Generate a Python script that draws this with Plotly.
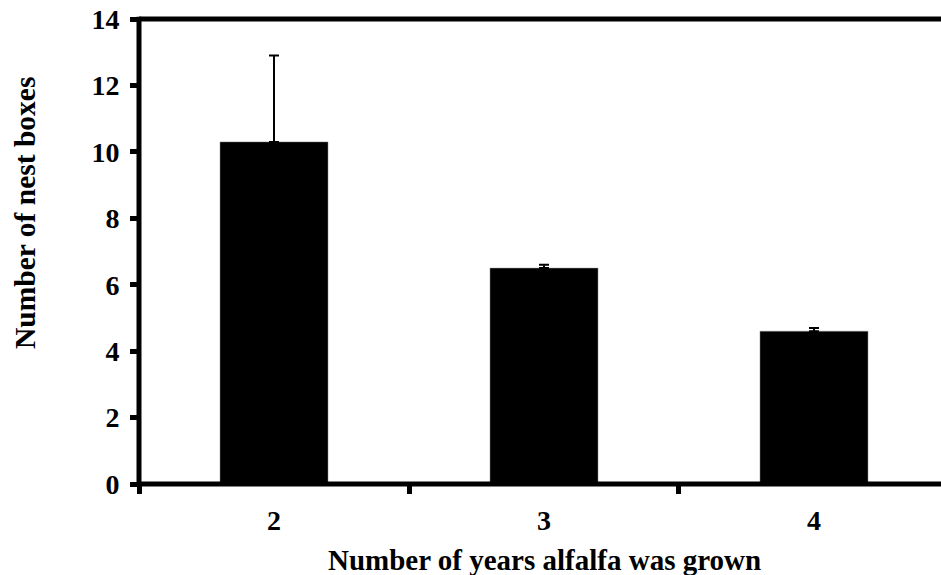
import plotly.graph_objects as go

categories = ["2", "3", "4"]
nest_boxes = [10.3, 6.5, 4.6]
error_up = [2.6, 0.1, 0.1]
y_ticks = [0, 2, 4, 6, 8, 10, 12, 14]

FONT = "Liberation Serif, Times New Roman, serif"

fig = go.Figure()
fig.add_trace(go.Bar(
    x=categories,
    y=nest_boxes,
    width=0.4,
    marker=dict(color="black", line=dict(color="#888", width=0.5)),
    error_y=dict(type="data", symmetric=False, array=error_up,
                 arrayminus=[0, 0, 0], color="black", thickness=2, width=5),
    showlegend=False,
))

frame = dict(color="black", width=5)
fig.add_shape(type="line", xref="paper", yref="paper", x0=0, x1=1, y0=0, y1=0,
              line=frame, layer="above")
fig.add_shape(type="line", xref="paper", yref="paper", x0=0, x1=1, y0=1, y1=1,
              line=frame, layer="above")
fig.add_shape(type="line", xref="paper", yref="paper", x0=0, x1=0, y0=-0.005, y1=1.005,
              line=frame, layer="above")

fig.update_layout(
    width=941, height=575,
    margin=dict(l=139, r=0, t=19, b=91),
    plot_bgcolor="white", paper_bgcolor="white",
    font=dict(family=FONT, color="black", size=28, weight="bold"),
    xaxis=dict(
        type="category", range=[-0.5, 2.4704],
        showline=False,
        ticks="outside", tickson="boundaries", ticklen=9, tickwidth=5,
        tickcolor="black", showgrid=False, zeroline=False,
        tickfont=dict(size=28, family=FONT, weight="bold"),
        ticklabelstandoff=17,
    ),
    yaxis=dict(
        range=[0, 14], tickvals=y_ticks,
        showline=False,
        ticks="outside", ticklen=8, tickwidth=5, tickcolor="black",
        showgrid=False, zeroline=False,
        tickfont=dict(size=28, family=FONT, weight="bold"),
        ticklabelstandoff=5, ticklabeloverflow="allow",
    ),
    annotations=[
        dict(text="Number of nest boxes", xref="paper", yref="paper",
             x=-0.1421, y=0.583, textangle=-90, showarrow=False,
             xanchor="center", yanchor="middle",
             font=dict(size=29.5, family=FONT, weight="bold")),
        dict(text="Number of years alfalfa was grown", xref="paper", yref="paper",
             x=0.5062, y=-0.163, showarrow=False,
             xanchor="center", yanchor="middle",
             font=dict(size=29, family=FONT, weight="bold")),
    ],
)

fig.write_html(
    "out.html",
    config={"displayModeBar": False},
    post_script="document.body.style.margin='0';document.body.style.overflow='hidden';",
)
